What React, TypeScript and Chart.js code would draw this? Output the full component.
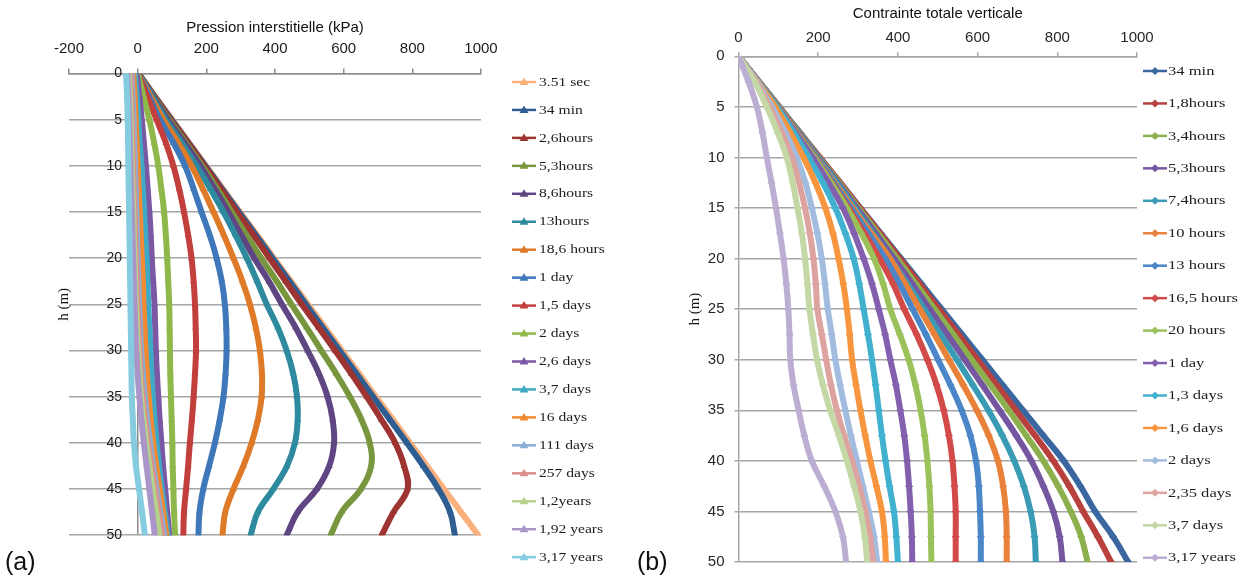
import React, { useEffect, useRef } from 'react';
import { Chart, registerables } from 'chart.js';

Chart.register(...registerables);

const FONT_SANS = "'Liberation Sans', Arial, sans-serif";
const FONT_SERIF = "'Liberation Serif', 'Times New Roman', serif";

// depth (m) of the read points, shared by both panels
const depthSteps = [0, 2.5, 5, 7.5, 10, 12.5, 15, 17.5, 20, 22.5, 25, 27.5, 30, 32.5, 35, 37.5, 40, 42.5, 45, 47.5, 50];

// ---------- (a) Pression interstitielle (kPa) ----------
const poreXTicks = [-200, 0, 200, 400, 600, 800, 1000];
const poreLabels = ['3.51 sec', '34 min', '2,6hours', '5,3hours', '8,6hours', '13hours', '18,6 hours', '1 day', '1,5 days', '2 days', '2,6 days', '3,7 days', '16 days', '111 days', '257 days', '1,2years', '1,92 years', '3,17 years'];
const pore351sec = [2, 51, 101, 150, 199, 249, 298, 348, 397, 447, 496, 546, 595, 645, 694, 744, 793, 843, 892, 942, 992];
const pore34min = [2, 50, 99, 148, 197, 246, 295, 344, 393, 442, 490, 539, 588, 637, 686, 735, 784, 832, 876, 910, 924];
const pore26h = [3, 49, 96, 146, 194, 242, 289, 337, 384, 431, 478, 527, 575, 622, 667, 710, 750, 776, 786, 745, 711];
const pore53h = [3, 47, 92, 140, 188, 232, 274, 317, 360, 405, 448, 492, 535, 578, 618, 652, 676, 680, 650, 594, 562];
const pore86h = [3, 45, 88, 136, 182, 224, 264, 302, 340, 382, 420, 460, 495, 528, 553, 568, 572, 558, 522, 466, 434];
const pore13h = [2, 42, 82, 128, 172, 212, 250, 285, 318, 348, 376, 408, 434, 453, 464, 466, 458, 435, 395, 350, 329];
const pore186h = [1, 38, 75, 118, 157, 190, 221, 251, 279, 305, 327, 344, 356, 362, 361, 350, 332, 308, 279, 255, 247];
const pore1d = [0, 33, 65, 104, 138, 163, 186, 210, 230, 245, 254, 258, 259, 256, 250, 239, 225, 208, 191, 180, 177];
const pore15d = [0, 28, 55, 82, 104, 121, 135, 147, 157, 163, 167, 169, 170, 167, 163, 158, 152, 147, 141, 135, 133];
const pore2d = [0, 17, 34, 48, 60, 69, 77, 82, 86, 89, 92, 93, 94, 95, 97, 99, 101, 102, 104, 106, 109];
const pore26d = [-3, 5, 12, 18, 24, 29, 34, 38, 41, 45, 49, 51, 53, 56, 60, 64, 69, 74, 80, 86, 92];
const pore37d = [-8, -3, 2, 6, 11, 15, 19, 22, 26, 28, 31, 34, 37, 40, 44, 49, 55, 62, 70, 79, 88];
const pore16d = [-13, -9, -6, -3, 0, 3, 6, 9, 12, 15, 17, 20, 23, 27, 32, 38, 45, 54, 64, 74, 84];
const pore111d = [-18, -15, -12, -10, -8, -6, -4, -2, 0, 2, 4, 7, 10, 15, 21, 28, 36, 45, 55, 66, 78];
const pore257d = [-22, -19, -17, -15, -13, -11, -9, -7, -5, -3, -1, 2, 5, 9, 15, 22, 30, 40, 50, 61, 72];
const pore12y = [-26, -23, -21, -19, -17, -15, -13, -11, -9, -7, -5, -2, 1, 5, 10, 17, 25, 34, 44, 54, 64];
const pore192y = [-30, -27, -25, -23, -21, -19, -17, -15, -13, -11, -9, -7, -4, 0, 5, 11, 18, 26, 34, 42, 50];
const pore317y = [-34, -31, -29, -28, -27, -26, -25, -24, -23, -22, -21, -20, -19, -18, -17, -14, -11, -5, 4, 13, 21];

// ---------- (b) Contrainte totale verticale ----------
const stressXTicks = [0, 200, 400, 600, 800, 1000];
const stressLabels = ['34 min', '1,8hours', '3,4hours', '5,3hours', '7,4hours', '10 hours', '13 hours', '16,5 hours', '20 hours', '1 day', '1,3 days', '1,6 days', '2 days', '2,35 days', '3,7 days', '3,17 years'];
const stress34min = [0, 51, 102, 153, 204, 255, 306, 357, 408, 459, 510, 561, 612, 663, 714, 765, 816, 858, 895, 940, 978];
const stress18h = [0, 51, 102, 153, 204, 255, 305, 355, 405, 454, 503, 552, 600, 648, 696, 744, 790, 830, 865, 902, 935];
const stress34h = [0, 51, 102, 152, 202, 252, 301, 350, 398, 445, 492, 539, 585, 632, 678, 722, 765, 802, 834, 860, 876];
const stress53h = [0, 51, 101, 151, 200, 249, 297, 344, 390, 436, 480, 524, 568, 612, 655, 697, 735, 765, 790, 806, 813];
const stress74h = [0, 51, 101, 150, 198, 246, 292, 337, 381, 424, 466, 507, 548, 588, 627, 662, 692, 716, 733, 743, 746];
const stress10h = [0, 50, 100, 148, 195, 241, 287, 333, 380, 418, 455, 492, 528, 564, 598, 628, 651, 664, 671, 673, 673];
const stress13h = [0, 50, 99, 147, 193, 238, 282, 326, 368, 404, 437, 470, 501, 532, 560, 582, 596, 603, 606, 608, 608];
const stress165h = [0, 50, 99, 146, 191, 234, 276, 316, 354, 388, 416, 447, 474, 497, 515, 528, 537, 542, 545, 545, 545];
const stress20h = [0, 50, 98, 144, 190, 232, 272, 308, 340, 363, 381, 405, 427, 444, 457, 467, 474, 479, 482, 483, 484];
const stress1d = [0, 49, 97, 142, 186, 226, 262, 290, 314, 335, 352, 368, 381, 395, 406, 416, 423, 428, 432, 435, 436];
const stress13d = [0, 48, 96, 138, 176, 212, 243, 268, 289, 303, 314, 325, 335, 344, 352, 360, 369, 379, 390, 396, 400];
const stress16d = [0, 47, 92, 129, 163, 193, 218, 237, 251, 263, 272, 279, 285, 295, 306, 318, 331, 346, 360, 367, 370];
const stress2d = [0, 46, 84, 117, 146, 168, 184, 198, 209, 217, 224, 234, 243, 255, 268, 282, 297, 312, 327, 340, 348];
const stress235d = [0, 44, 78, 108, 134, 152, 167, 179, 188, 194, 198, 209, 220, 232, 247, 265, 285, 303, 318, 330, 338];
const stress37d = [0, 40, 71, 98, 121, 136, 148, 159, 167, 173, 178, 187, 197, 212, 230, 252, 272, 290, 306, 317, 323];
const stress317y = [0, 25, 46, 60, 71, 83, 94, 104, 113, 120, 125, 128, 130, 138, 151, 165, 184, 215, 243, 262, 270];

const poreSeries = [pore351sec, pore34min, pore26h, pore53h, pore86h, pore13h, pore186h, pore1d, pore15d, pore2d, pore26d, pore37d, pore16d, pore111d, pore257d, pore12y, pore192y, pore317y];
const stressSeries = [stress34min, stress18h, stress34h, stress53h, stress74h, stress10h, stress13h, stress165h, stress20h, stress1d, stress13d, stress16d, stress2d, stress235d, stress37d, stress317y];

const poreColors = ['#F9B07C', '#2E5D92', '#9E3431', '#77963D', '#5F4683', '#2E8A9E', '#DF7A28', '#3E77BA', '#C23F3C', '#8FB84B', '#7A58A3', '#3FAAC6', '#F28A33', '#8AADD8', '#DB8E8C', '#B5D18B', '#AA95C8', '#86CCE0'];
const stressColors = ['#3A67A0', '#B8413E', '#8DB04F', '#7457A0', '#3A9BB5', '#E8823A', '#4A86C8', '#D24B48', '#9BC25A', '#8360AE', '#41B1CF', '#F7963F', '#A2BCE0', '#DDA3A1', '#C3D8A5', '#BCAED3'];

const GRID = '#a6a6a6';
const AXIS = '#8c8c8c';

const sideLegend = {
  id: 'sideLegend',
  afterDraw(chart: any, _args: any, opts: any) {
    if (!opts || opts.x === undefined) return;
    const ctx = chart.ctx as CanvasRenderingContext2D;
    ctx.save();
    chart.data.datasets.forEach((ds: any, i: number) => {
      const y = opts.y0 + i * opts.dy;
      const x = opts.x;
      const col = ds.borderColor;
      ctx.strokeStyle = col;
      ctx.lineWidth = 2.5;
      ctx.beginPath();
      ctx.moveTo(x, y);
      ctx.lineTo(x + opts.len, y);
      ctx.stroke();
      const cx = x + opts.len / 2;
      ctx.fillStyle = col;
      ctx.beginPath();
      if (opts.marker === 'triangle') {
        ctx.moveTo(cx, y - 4.5);
        ctx.lineTo(cx + 4.5, y + 3);
        ctx.lineTo(cx - 4.5, y + 3);
      } else {
        ctx.moveTo(cx, y - 4);
        ctx.lineTo(cx + 4, y);
        ctx.lineTo(cx, y + 4);
        ctx.lineTo(cx - 4, y);
      }
      ctx.closePath();
      ctx.fill();
      ctx.save();
      ctx.translate(opts.textX, y + 0.5);
      ctx.scale(opts.sx, 1);
      ctx.font = `12px ${FONT_SERIF}`;
      ctx.fillStyle = '#1e1e1e';
      ctx.textAlign = 'left';
      ctx.textBaseline = 'middle';
      ctx.fillText(ds.label, 0, 0);
      ctx.restore();
    });
    ctx.restore();
  },
};

function makeDatasets(series: number[][], labels: string[], colors: string[], style: string) {
  return series.map((vals, i) => ({
    label: labels[i],
    data: vals.map((v, k) => ({ x: v, y: depthSteps[k] })),
    borderColor: colors[i],
    backgroundColor: colors[i],
    borderWidth: 6,
    showLine: true,
    tension: 0.4,
    borderCapStyle: 'round',
    borderJoinStyle: 'round',
    pointStyle: style,
    pointRadius: 4,
    pointBorderWidth: 0,
    pointHoverRadius: 4,
    order: -i,
  }));
}

function poreConfig(): any {
  return {
    type: 'scatter',
    data: { datasets: makeDatasets(poreSeries, poreLabels, poreColors, 'triangle') },
    plugins: [sideLegend],
    options: {
      animation: false,
      responsive: false,
      devicePixelRatio: 1,
      events: [],
      layout: { padding: { left: 55, right: 144, top: 0, bottom: 17.5 } },
      plugins: {
        legend: { display: false },
        tooltip: { enabled: false },
        sideLegend: { x: 512, len: 24, textX: 539, y0: 82, dy: 27.95, marker: 'triangle', sx: 1.3 },
      },
      scales: {
        x: {
          type: 'linear',
          position: 'top',
          min: poreXTicks[0],
          max: poreXTicks[poreXTicks.length - 1],
          afterFit: (s: any) => { s.height = 73.5; },
          afterBuildTicks: (s: any) => { s.ticks = poreXTicks.map((v) => ({ value: v })); },
          ticks: { font: { family: FONT_SANS, size: 15 }, color: '#1a1a1a', padding: 11, callback: (v: any) => String(v), maxRotation: 0, autoSkip: false },
          grid: {
            color: (c: any) => (c.tick && c.tick.value === 0 ? AXIS : 'rgba(0,0,0,0)'),
            lineWidth: 1.5,
            tickLength: 5,
            tickColor: AXIS,
            tickWidth: 1.5,
          },
          border: { display: true, color: AXIS, width: 1.5 },
          title: { display: true, text: 'Pression interstitielle (kPa)', font: { family: FONT_SANS, size: 15 }, color: '#111', padding: { top: 19, bottom: 0 } },
        },
        y: {
          type: 'linear',
          position: 'left',
          reverse: true,
          min: 0,
          max: 50,
          afterFit: (s: any) => { s.width = 14; },
          ticks: { stepSize: 5, mirror: true, crossAlign: 'far', padding: 37.4, font: { family: FONT_SANS, size: 14 }, color: '#1a1a1a', callback: (v: any) => String(v) },
          grid: { color: GRID, lineWidth: 1.5, drawTicks: false },
          border: { display: false },
          title: { display: true, text: 'h (m)', font: { family: FONT_SERIF, size: 15 }, color: '#111', padding: 0 },
        },
      },
    },
  };
}

function stressConfig(): any {
  return {
    type: 'scatter',
    data: { datasets: makeDatasets(stressSeries, stressLabels, stressColors, 'rectRot') },
    plugins: [sideLegend],
    options: {
      animation: false,
      responsive: false,
      devicePixelRatio: 1,
      events: [],
      layout: { padding: { left: 61, right: 105, top: 0, bottom: 18.7 } },
      plugins: {
        legend: { display: false },
        tooltip: { enabled: false },
        sideLegend: { x: 518, len: 24, textX: 543, y0: 71, dy: 32.45, marker: 'diamond', sx: 1.38 },
      },
      scales: {
        x: {
          type: 'linear',
          position: 'top',
          min: stressXTicks[0],
          max: stressXTicks[stressXTicks.length - 1],
          afterFit: (s: any) => { s.height = 56.3; },
          afterBuildTicks: (s: any) => { s.ticks = stressXTicks.map((v) => ({ value: v })); },
          ticks: { font: { family: FONT_SANS, size: 15 }, color: '#262626', padding: 5.6, callback: (v: any) => String(v), maxRotation: 0, autoSkip: false },
          grid: { color: 'rgba(0,0,0,0)', lineWidth: 1.5, tickLength: 4, tickColor: GRID, tickWidth: 1.5 },
          border: { display: true, color: GRID, width: 1.5 },
          title: { display: true, text: 'Contrainte totale verticale', font: { family: FONT_SANS, size: 15 }, color: '#111', padding: { top: 5, bottom: 0 } },
        },
        y: {
          type: 'linear',
          position: 'left',
          reverse: true,
          min: 0,
          max: 50,
          afterFit: (s: any) => { s.width = 52.5; },
          ticks: { stepSize: 5, padding: 10, font: { family: FONT_SANS, size: 15 }, color: '#262626', callback: (v: any) => String(v) },
          grid: { color: GRID, lineWidth: 1.5, tickLength: 4, tickColor: GRID },
          border: { display: true, color: GRID, width: 1.5 },
          title: { display: true, text: 'h (m)', font: { family: FONT_SERIF, size: 15 }, color: '#111', padding: 0 },
        },
      },
    },
  };
}

function Panel({ makeConfig, left, width }: { makeConfig: () => any; left: number; width: number }) {
  const ref = useRef<HTMLCanvasElement>(null);
  useEffect(() => {
    if (!ref.current) return;
    const chart = new Chart(ref.current, makeConfig());
    return () => chart.destroy();
  }, []);
  return (
    <canvas
      ref={ref}
      width={width}
      height={581}
      style={{ position: 'absolute', left, top: 0, width, height: 581 }}
    />
  );
}

const tagStyle: React.CSSProperties = {
  position: 'absolute',
  top: 549,
  fontFamily: FONT_SANS,
  fontSize: 25,
  lineHeight: '25px',
  color: '#111',
};

export default function App() {
  return (
    <div style={{ position: 'fixed', left: 0, top: 0, width: 1242, height: 581, background: '#fff', overflow: 'hidden' }}>
      <Panel makeConfig={poreConfig} left={0} width={625} />
      <Panel makeConfig={stressConfig} left={625} width={617} />
      <div style={{ ...tagStyle, left: 5 }}>(a)</div>
      <div style={{ ...tagStyle, left: 637 }}>(b)</div>
    </div>
  );
}
